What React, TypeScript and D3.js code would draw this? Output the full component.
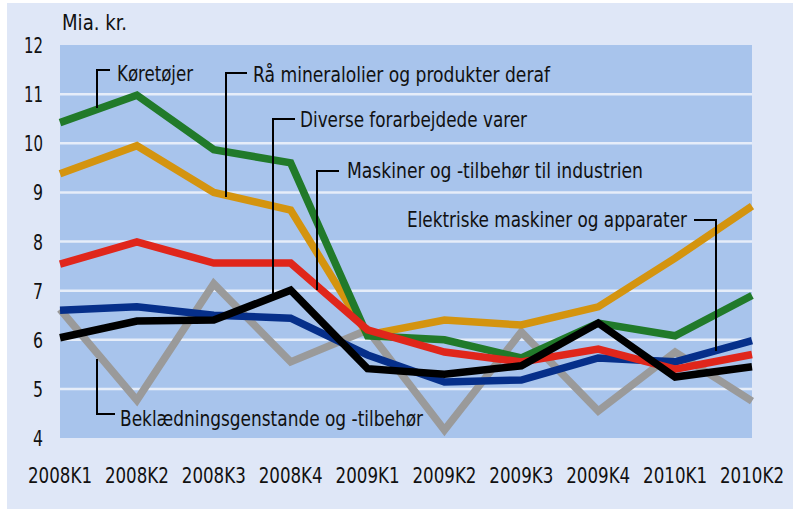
import * as d3 from 'd3';
import React, { useEffect, useRef } from 'react';

// quarters on the x axis
const quarters = ['2008K1', '2008K2', '2008K3', '2008K4', '2009K1', '2009K2', '2009K3', '2009K4', '2010K1', '2010K2'];
const yTicks = [4, 5, 6, 7, 8, 9, 10, 11, 12];

// series values, mia. kr.
const koretojer = [10.42, 10.98, 9.87, 9.6, 6.08, 6.0, 5.63, 6.34, 6.08, 6.9];
const raMineral = [9.38, 9.95, 9.0, 8.64, 6.1, 6.4, 6.3, 6.67, 7.66, 8.72];
const maskinerIndustri = [7.54, 7.99, 7.56, 7.56, 6.2, 5.75, 5.55, 5.81, 5.4, 5.7];
const elektriske = [6.6, 6.67, 6.5, 6.44, 5.69, 5.14, 5.18, 5.63, 5.55, 5.98];
const diverse = [6.04, 6.38, 6.4, 7.01, 5.41, 5.3, 5.47, 6.34, 5.24, 5.45];
const beklaedning = [6.62, 4.77, 7.14, 5.55, 6.2, 4.16, 6.16, 4.55, 5.75, 4.75];

const FONT = '"Liberation Sans Narrow", "DejaVu Sans Condensed", "Open Sans", sans-serif';

const App = () => {
  const svgRef = useRef<SVGSVGElement>(null);

  useEffect(() => {
    const svg = d3.select(svgRef.current);
    svg.selectAll('*').remove();

    const height = 509;
    const left = 60, right = 752, top = 45, bottom = 438;

    // outer background
    svg.append('rect')
      .attr('x', 7).attr('y', 3)
      .attr('width', 786).attr('height', height - 3)
      .attr('fill', '#dfe7f7');

    const x = d3.scalePoint().domain(quarters).range([left, right]);
    const y = d3.scaleLinear().domain([4, 12]).range([bottom, top]);

    // plot area
    svg.append('rect')
      .attr('x', left).attr('y', top)
      .attr('width', right - left).attr('height', bottom - top)
      .attr('fill', '#a8c4ec');

    // grid
    svg.append('g')
      .selectAll('line')
      .data(yTicks.filter(d => d > 4 && d < 12))
      .enter()
      .append('line')
        .attr('x1', left).attr('x2', right)
        .attr('y1', d => y(d)).attr('y2', d => y(d))
        .attr('stroke', '#e6edf9')
        .attr('stroke-width', 2.5);

    // y labels
    svg.append('g')
      .selectAll('text')
      .data(yTicks)
      .enter()
      .append('text')
        .attr('x', 43)
        .attr('y', d => y(d) + 8)
        .attr('text-anchor', 'end')
        .attr('font-family', FONT)
        .attr('font-size', 21.5)
        .attr('fill', '#111')
        .attr('textLength', d => (String(d).length > 1 ? 19 : 10))
        .attr('lengthAdjust', 'spacingAndGlyphs')
        .text(d => d);

    svg.append('text')
      .attr('x', 62).attr('y', 30)
      .attr('font-family', FONT)
      .attr('font-size', 21)
      .attr('fill', '#111')
      .attr('textLength', 65)
      .attr('lengthAdjust', 'spacingAndGlyphs')
      .text('Mia. kr.');

    // x labels
    svg.append('g')
      .selectAll('text')
      .data(quarters)
      .enter()
      .append('text')
        .attr('x', d => x(d) as number)
        .attr('y', 483)
        .attr('text-anchor', 'middle')
        .attr('font-family', FONT)
        .attr('font-size', 21.5)
        .attr('fill', '#111')
        .attr('textLength', 64)
        .attr('lengthAdjust', 'spacingAndGlyphs')
        .text(d => d);

    const line = d3.line<number>()
      .x((d, i) => x(quarters[i]) as number)
      .y(d => y(d));

    const series = [
      { values: beklaedning, color: '#9a9a9a' },
      { values: raMineral, color: '#d4940f' },
      { values: koretojer, color: '#217a2a' },
      { values: elektriske, color: '#062f8a' },
      { values: maskinerIndustri, color: '#e0261b' },
      { values: diverse, color: '#000000' },
    ];

    svg.append('g')
      .selectAll('path')
      .data(series)
      .enter()
      .append('path')
        .attr('d', d => line(d.values))
        .attr('fill', 'none')
        .attr('stroke', d => d.color)
        .attr('stroke-width', 7.5);

    // leader lines + labels
    const notes = [
      { pts: [[110, 70], [97, 70], [97, 108]], tx: 117, ty: 81, w: 76, anchor: 'start', label: 'Køretøjer' },
      { pts: [[247, 73], [226, 73], [226, 197]], tx: 253, ty: 82, w: 297, anchor: 'start', label: 'Rå mineralolier og produkter deraf' },
      { pts: [[295, 119], [273, 119], [273, 294]], tx: 300, ty: 127, w: 227, anchor: 'start', label: 'Diverse forarbejdede varer' },
      { pts: [[339, 171], [317, 171], [317, 290]], tx: 347, ty: 178, w: 296, anchor: 'start', label: 'Maskiner og -tilbehør til industrien' },
      { pts: [[694, 220], [716, 220], [716, 351]], tx: 407, ty: 227, w: 280, anchor: 'start', label: 'Elektriske maskiner og apparater' },
      { pts: [[97, 359], [97, 414], [115, 414]], tx: 120, ty: 426, w: 303, anchor: 'start', label: 'Beklædningsgenstande og -tilbehør' },
    ];

    const notesG = svg.append('g');
    notes.forEach(n => {
      notesG.append('path')
        .attr('d', d3.line()(n.pts as [number, number][]))
        .attr('fill', 'none')
        .attr('stroke', '#000')
        .attr('stroke-width', 2);
      notesG.append('text')
        .attr('x', n.tx).attr('y', n.ty)
        .attr('text-anchor', n.anchor)
        .attr('font-family', FONT)
        .attr('font-size', 21.5)
        .attr('fill', '#111')
        .attr('textLength', n.w)
        .attr('lengthAdjust', 'spacingAndGlyphs')
        .text(n.label);
    });
  }, []);

  return (
    <svg ref={svgRef} width={798} height={509}
      style={{ position: 'absolute', left: 0, top: 0, background: '#fff' }} />
  );
};

export default App;
